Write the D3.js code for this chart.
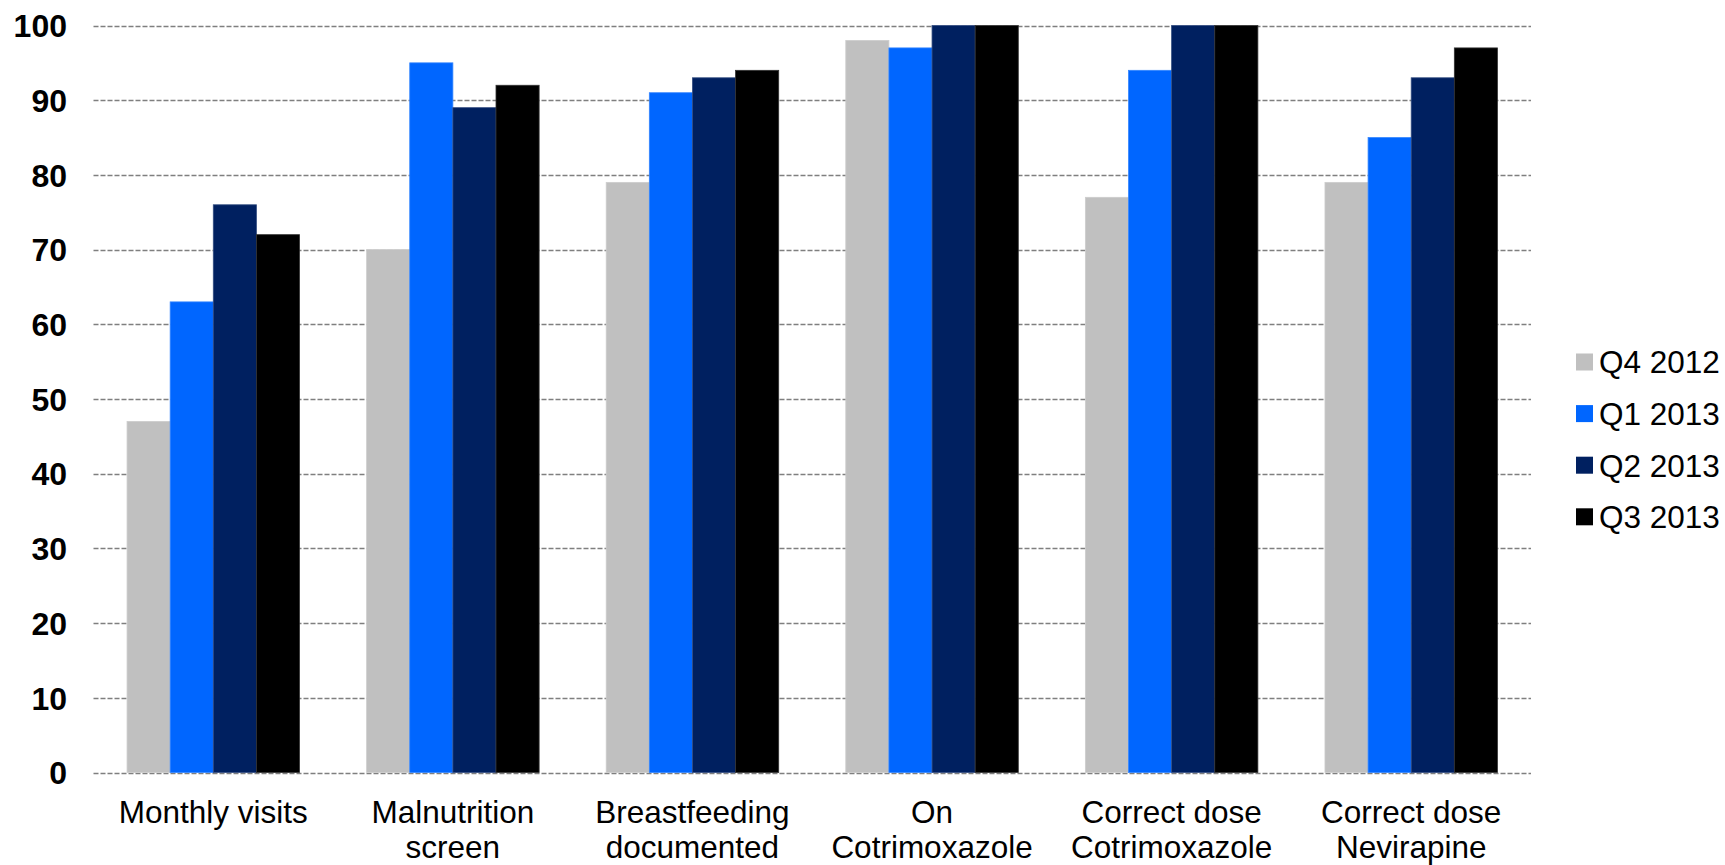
<!DOCTYPE html>
<html>
<head>
<meta charset="utf-8">
<script src="https://cdn.jsdelivr.net/npm/d3@7"></script>
<style>
  html, body { margin: 0; padding: 0; background: #fff; }
  svg { display: block; font-family: "Liberation Sans", Arial, sans-serif; }
</style>
</head>
<body>
<svg id="chart" width="1725" height="865"></svg>
<script>
const categories = [
  ["Monthly visits"],
  ["Malnutrition", "screen"],
  ["Breastfeeding", "documented"],
  ["On", "Cotrimoxazole"],
  ["Correct dose", "Cotrimoxazole"],
  ["Correct dose", "Nevirapine"]
];
const seriesNames = ["Q4 2012", "Q1 2013", "Q2 2013", "Q3 2013"];
const seriesColors = ["#C0C0C0", "#0066FF", "#002060", "#000000"];
const q4_2012 = [47, 70, 79, 98, 77, 79];
const q1_2013 = [63, 95, 91, 97, 94, 85];
const q2_2013 = [76, 89, 93, 100, 100, 93];
const q3_2013 = [72, 92, 94, 100, 100, 97];
const seriesValues = [q4_2012, q1_2013, q2_2013, q3_2013];
const yTicks = [0, 10, 20, 30, 40, 50, 60, 70, 80, 90, 100];

const svg = d3.select("#chart");
const margin = { left: 93.5, right: 1531, top: 25.5, bottom: 772.5 };

const catKeys = categories.map(c => c.join(" "));
const x0 = d3.scaleBand().domain(catKeys).range([margin.left, margin.right])
  .paddingInner(0.28).paddingOuter(0.14);
const x1 = d3.scaleBand().domain(seriesNames).range([0, x0.bandwidth()]).padding(0);
const y = d3.scaleLinear().domain([0, 100]).range([margin.bottom, margin.top]);

// gridlines
svg.append("g").selectAll("line").data(yTicks).join("line")
  .attr("x1", margin.left).attr("x2", margin.right)
  .attr("y1", d => Math.round(y(d)) + 0.5).attr("y2", d => Math.round(y(d)) + 0.5)
  .attr("stroke", "#7f7f7f").attr("stroke-width", 1.5)
  .attr("stroke-dasharray", "5,2");

// y labels
const yAxis = d3.axisLeft(y).tickValues(yTicks).tickSize(0).tickPadding(0);
const gy = svg.append("g").attr("transform", `translate(67,0)`).call(yAxis);
gy.select(".domain").remove();
gy.selectAll("text")
  .attr("font-family", "'Liberation Sans', Arial, sans-serif")
  .attr("font-size", 32).attr("font-weight", "bold").attr("fill", "#000")
  .attr("dy", "0.35em");

// bars
const groups = svg.append("g").selectAll("g").data(catKeys).join("g")
  .attr("transform", d => `translate(${x0(d)},0)`);
groups.selectAll("rect")
  .data((d, i) => seriesNames.map((s, j) => ({ s, j, v: seriesValues[j][i] })))
  .join("rect")
  .attr("x", d => x1(d.s))
  .attr("width", x1.bandwidth())
  .attr("y", d => y(d.v))
  .attr("height", d => y(0) - y(d.v))
  .attr("fill", d => seriesColors[d.j])
  .attr("stroke", d => d3.interpolateRgb(seriesColors[d.j], "#ffffff")(0.2))
  .attr("stroke-width", 0.8);

// x labels
const xl = svg.append("g").selectAll("text").data(categories).join("text")
  .attr("x", (d, i) => x0(catKeys[i]) + x0.bandwidth() / 2)
  .attr("y", 823)
  .attr("text-anchor", "middle")
  .attr("font-size", 31.5).attr("fill", "#000");
xl.selectAll("tspan").data(d => d).join("tspan")
  .attr("x", function () { return d3.select(this.parentNode).attr("x"); })
  .attr("dy", (d, i) => i === 0 ? 0 : 35)
  .text(d => d);

// legend
const lg = svg.append("g").selectAll("g").data(seriesNames).join("g")
  .attr("transform", (d, i) => `translate(1576, ${362 + i * 51.6})`);
lg.append("rect").attr("x", 0).attr("y", -8.5).attr("width", 17).attr("height", 17)
  .attr("fill", (d, i) => seriesColors[i]);
lg.append("text").attr("x", 23).attr("y", 0).attr("dy", "0.36em")
  .attr("font-size", 31.5).attr("fill", "#000").text(d => d);
</script>
</body>
</html>
